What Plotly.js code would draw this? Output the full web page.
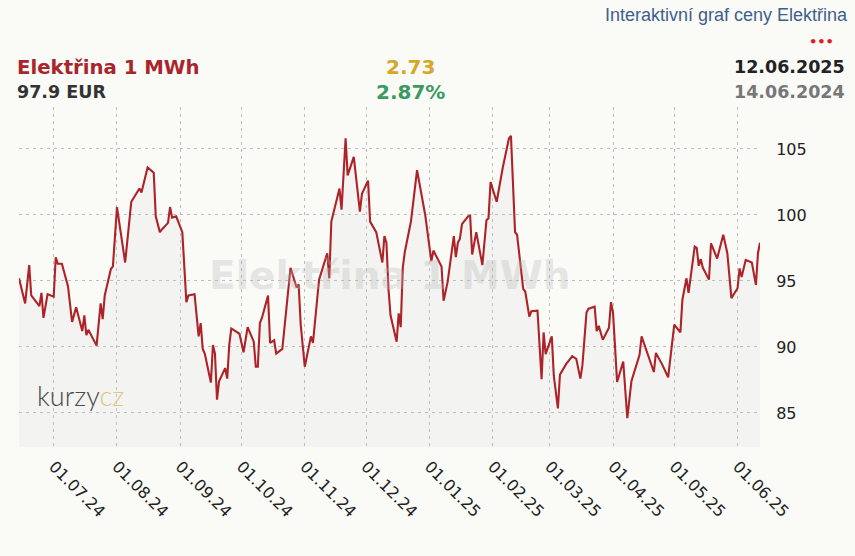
<!DOCTYPE html>
<html>
<head>
<meta charset="utf-8">
<script src="https://cdn.plot.ly/plotly-3.0.1.min.js"></script>
<style>
  html, body { margin: 0; padding: 0; background: #fafaf7; }
  #chart { width: 855px; height: 556px; }
</style>
</head>
<body>
<div id="chart"></div>
<script>
// ---- data ----
const dates = [
  "2024-06-14","2024-06-17","2024-06-19","2024-06-20","2024-06-24","2024-06-25","2024-06-26","2024-06-28",
  "2024-07-01","2024-07-02","2024-07-03","2024-07-05","2024-07-08","2024-07-10","2024-07-12","2024-07-15",
  "2024-07-16","2024-07-17","2024-07-18","2024-07-22","2024-07-24","2024-07-25","2024-07-26","2024-07-29",
  "2024-07-30","2024-08-01","2024-08-05","2024-08-08","2024-08-12","2024-08-13","2024-08-16","2024-08-19",
  "2024-08-20","2024-08-22","2024-08-23","2024-08-26","2024-08-27","2024-08-28","2024-08-30","2024-09-02",
  "2024-09-04","2024-09-05","2024-09-08","2024-09-10","2024-09-11","2024-09-12","2024-09-13","2024-09-16",
  "2024-09-17","2024-09-18","2024-09-19","2024-09-20","2024-09-23","2024-09-24","2024-09-25","2024-09-26",
  "2024-09-30","2024-10-02","2024-10-04","2024-10-07","2024-10-08","2024-10-09","2024-10-10","2024-10-11",
  "2024-10-14","2024-10-15","2024-10-17","2024-10-18","2024-10-21","2024-10-25","2024-10-28","2024-10-29",
  "2024-10-30","2024-11-01","2024-11-04","2024-11-05","2024-11-08","2024-11-12","2024-11-13","2024-11-14",
  "2024-11-18","2024-11-19","2024-11-21","2024-11-22","2024-11-25","2024-11-28","2024-11-29","2024-12-02",
  "2024-12-03","2024-12-05","2024-12-06","2024-12-09","2024-12-10","2024-12-11","2024-12-12","2024-12-13",
  "2024-12-16","2024-12-17","2024-12-18","2024-12-19","2024-12-20","2024-12-23","2024-12-26","2024-12-30",
  "2025-01-02","2025-01-03","2025-01-06","2025-01-07","2025-01-08","2025-01-10","2025-01-13","2025-01-14",
  "2025-01-15","2025-01-16","2025-01-17","2025-01-20","2025-01-21","2025-01-22","2025-01-24","2025-01-27",
  "2025-01-29","2025-01-30","2025-01-31","2025-02-03","2025-02-06","2025-02-09","2025-02-10","2025-02-12",
  "2025-02-13","2025-02-16","2025-02-17","2025-02-19","2025-02-20","2025-02-23","2025-02-25","2025-02-26",
  "2025-02-27","2025-03-02","2025-03-03","2025-03-05","2025-03-06","2025-03-09","2025-03-11","2025-03-12",
  "2025-03-14","2025-03-16","2025-03-17","2025-03-19","2025-03-20","2025-03-23","2025-03-24","2025-03-25",
  "2025-03-27","2025-03-30","2025-03-31","2025-04-01","2025-04-03","2025-04-06","2025-04-08","2025-04-10",
  "2025-04-14","2025-04-15","2025-04-21","2025-04-22","2025-04-25","2025-04-28","2025-05-01","2025-05-04",
  "2025-05-05","2025-05-07","2025-05-08","2025-05-11","2025-05-12","2025-05-13","2025-05-14","2025-05-15",
  "2025-05-18","2025-05-19","2025-05-22","2025-05-25","2025-05-27","2025-05-29","2025-06-01","2025-06-02",
  "2025-06-03","2025-06-05","2025-06-08","2025-06-10","2025-06-11","2025-06-12"
];
const prices = [
  95.2,93.3,96.2,93.9,93.1,94.1,92.2,94.0,
  93.8,96.8,96.3,96.3,94.6,91.9,93.0,91.2,
  92.4,90.9,91.3,90.1,93.3,92.1,93.9,95.9,
  96.1,100.6,96.4,101.0,102.0,101.7,103.6,103.2,
  99.9,98.7,98.9,99.4,100.6,99.8,99.9,98.7,
  93.4,93.9,94.0,90.8,91.8,89.85,89.5,87.3,
  90.15,89.5,86.0,87.4,88.4,87.6,90.15,91.4,
  91.0,89.6,91.5,90.4,88.5,88.5,91.8,92.2,
  93.9,90.3,90.5,89.5,89.85,96.0,94.5,94.75,
  91.7,88.5,90.8,90.3,95.1,97.1,95.2,99.5,
  102.0,100.4,105.8,103.0,104.4,100.25,101.6,102.6,
  99.5,98.9,98.7,96.4,98.4,97.9,94.4,92.4,
  90.4,92.55,91.5,96.0,97.2,99.5,103.4,100.0,
  96.5,97.3,96.3,96.1,93.5,94.95,98.4,96.8,
  97.9,98.2,99.3,99.9,99.95,97.0,98.7,96.2,
  99.6,99.75,102.5,101.0,103.6,105.8,106.0,98.7,
  98.5,94.4,94.2,92.3,92.7,92.75,87.55,91.1,
  89.45,90.8,87.8,85.35,87.9,88.7,89.1,89.3,
  89.1,87.6,88.6,92.6,92.9,93.05,91.2,91.6,
  90.55,91.45,93.4,92.6,87.35,88.9,84.6,87.4,
  89.4,90.8,88.1,89.55,88.7,87.7,91.7,91.1,
  93.6,95.2,94.1,97.6,97.5,96.15,96.65,96.0,
  95.1,97.85,96.7,98.5,97.1,93.7,94.45,95.95,
  95.3,96.6,96.4,94.7,97.1,97.9
];
const xTickVals = ["2024-07-01","2024-08-01","2024-09-01","2024-10-01","2024-11-01","2024-12-01",
  "2025-01-01","2025-02-01","2025-03-01","2025-04-01","2025-05-01","2025-06-01"];
const yTickVals = [85, 90, 95, 100, 105];

const seriesName = "Elektřina 1 MWh";
const lastPriceText = "97.9 EUR";
const changeAbs = "2.73";
const changePct = "2.87%";
const dateEnd = "12.06.2025";
const dateStart = "14.06.2024";
const headerLink = "Interaktivní graf ceny Elektřina";

// ---- chart ----
const trace = {
  x: dates, y: prices, type: "scatter", mode: "lines",
  line: { color: "#ad2328", width: 2.1 },
  fill: "tozeroy", fillcolor: "rgba(205,205,205,0.15)",
  hoverinfo: "skip"
};

const W = 741, H = 340, L = 19, T = 107;
const px = v => (v - L) / W;
const py = v => (T + H - v) / H;

const layout = {
  width: 855, height: 556,
  margin: { l: L, r: 855 - L - W, t: T, b: 556 - T - H, pad: 0 },
  paper_bgcolor: "#fafaf7",
  plot_bgcolor: "#fafaf7",
  showlegend: false,
  xaxis: {
    type: "date",
    range: ["2024-06-14", "2025-06-12"],
    tickvals: xTickVals,
    tickformat: "%d.%m.%y",
    tickangle: 45,
    showgrid: true,
    gridcolor: "#bdbdbd",
    griddash: "3px,4px",
    gridwidth: 1,
    zeroline: false,
    showline: false,
    ticks: "outside", ticklen: 3, tickcolor: "rgba(0,0,0,0)",
    tickfont: { family: "DejaVu Sans", size: 16, color: "#222" },
    fixedrange: true
  },
  yaxis: {
    range: [82.42, 108.18],
    side: "right",
    tickvals: yTickVals,
    showgrid: true,
    gridcolor: "#bdbdbd",
    griddash: "3px,4px",
    gridwidth: 1,
    zeroline: false,
    showline: false,
    ticks: "outside", ticklen: 12, tickcolor: "rgba(0,0,0,0)",
    tickfont: { family: "DejaVu Sans", size: 16, color: "#222" },
    fixedrange: true
  },
  annotations: [
    { text: seriesName, xref: "paper", yref: "paper", x: px(390), y: py(275),
      xanchor: "center", yanchor: "middle", showarrow: false,
      font: { family: "DejaVu Sans", size: 39, color: "rgba(185,185,185,0.33)", weight: "bold" } },
    { text: 'kurzy<span style="color:#dcc681">cz</span>', xref: "paper", yref: "paper", x: px(35), y: py(395),
      xanchor: "left", yanchor: "middle", showarrow: false,
      font: { family: "Lato", size: 27, color: "#4a4a4a", weight: 300 } },
    { text: headerLink, xref: "paper", yref: "paper", x: px(850), y: py(15),
      xanchor: "right", yanchor: "middle", showarrow: false,
      font: { family: "Liberation Sans Narrow, Liberation Sans", size: 18, color: "#3e5f8c" } },
    { text: "•••", xref: "paper", yref: "paper", x: px(836), y: py(41),
      xanchor: "right", yanchor: "middle", showarrow: false,
      font: { family: "DejaVu Sans", size: 13, color: "#e41b1b", weight: "bold" } },
    { text: seriesName, xref: "paper", yref: "paper", x: px(15), y: py(67),
      xanchor: "left", yanchor: "middle", showarrow: false,
      font: { family: "DejaVu Sans", size: 19.7, color: "#a8262b", weight: "bold" } },
    { text: lastPriceText, xref: "paper", yref: "paper", x: px(15), y: py(92),
      xanchor: "left", yanchor: "middle", showarrow: false,
      font: { family: "DejaVu Sans", size: 17.5, color: "#333", weight: "bold" } },
    { text: changeAbs, xref: "paper", yref: "paper", x: px(410), y: py(67),
      xanchor: "center", yanchor: "middle", showarrow: false,
      font: { family: "DejaVu Sans", size: 20, color: "#d8a628", weight: "bold" } },
    { text: changePct, xref: "paper", yref: "paper", x: px(410), y: py(92),
      xanchor: "center", yanchor: "middle", showarrow: false,
      font: { family: "DejaVu Sans", size: 20, color: "#3a9a62", weight: "bold" } },
    { text: dateEnd, xref: "paper", yref: "paper", x: px(847), y: py(67),
      xanchor: "right", yanchor: "middle", showarrow: false,
      font: { family: "DejaVu Sans", size: 17.5, color: "#222", weight: "bold" } },
    { text: dateStart, xref: "paper", yref: "paper", x: px(847), y: py(92),
      xanchor: "right", yanchor: "middle", showarrow: false,
      font: { family: "DejaVu Sans", size: 17.5, color: "#777", weight: "bold" } }
  ]
};

Plotly.newPlot("chart", [trace], layout, { displayModeBar: false, staticPlot: true });
</script>
</body>
</html>
